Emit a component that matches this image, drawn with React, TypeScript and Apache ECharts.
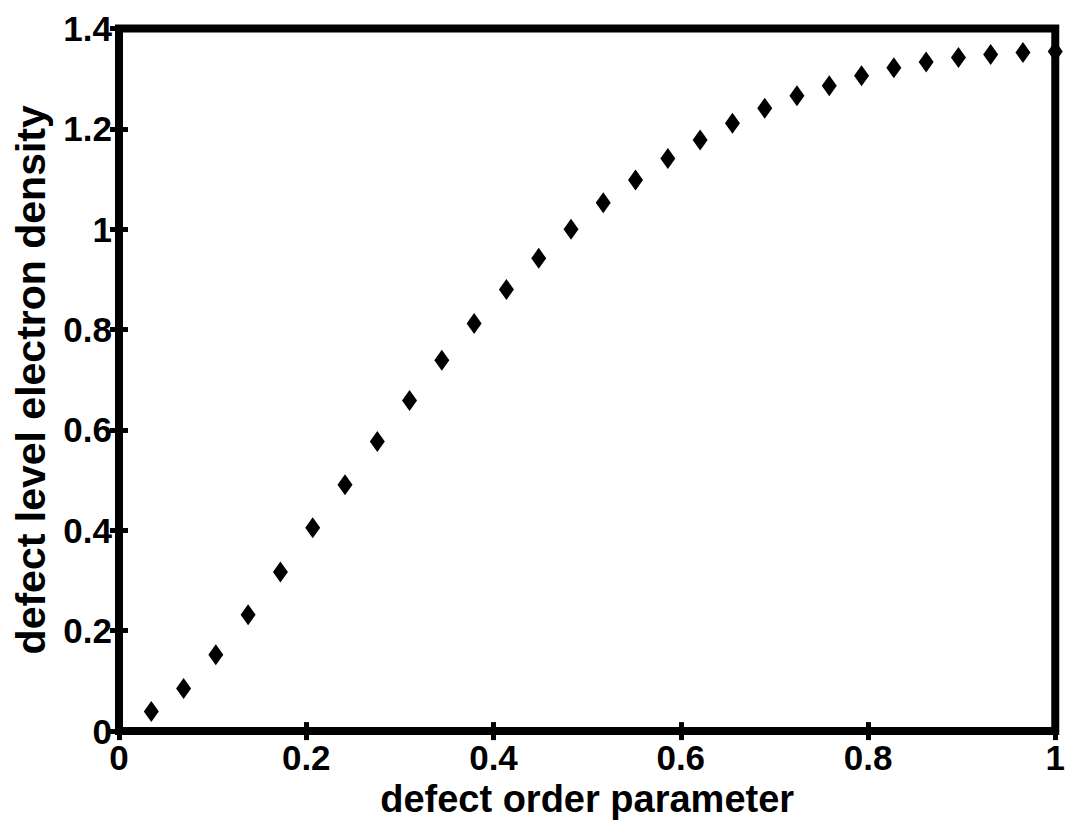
import React, { useEffect, useRef } from "react";
import * as echarts from "echarts";

const xValues = [
  0.0345, 0.069, 0.1034, 0.1379, 0.1724, 0.2069, 0.2414, 0.2759, 0.3103, 0.3448,
  0.3793, 0.4138, 0.4483, 0.4828, 0.5172, 0.5517, 0.5862, 0.6207, 0.6552, 0.6897,
  0.7241, 0.7586, 0.7931, 0.8276, 0.8621, 0.8966, 0.931, 0.9655, 1.0,
];
const yValues = [
  0.039, 0.085, 0.152, 0.232, 0.317, 0.405, 0.491, 0.577, 0.659, 0.739,
  0.812, 0.88, 0.942, 1.0, 1.053, 1.098, 1.141, 1.178, 1.211, 1.241,
  1.266, 1.286, 1.306, 1.322, 1.333, 1.342, 1.348, 1.352, 1.354,
];
const xTitle = "defect order parameter";
const yTitle = "defect level electron density";

const FONT = "'Liberation Sans', Arial, sans-serif";

export default function App() {
  const ref = useRef<HTMLDivElement>(null);
  useEffect(() => {
    if (!ref.current) return;
    const chart = echarts.init(ref.current, null, { renderer: "svg" });
    const tickStyle = { show: true, inside: true, length: 9, lineStyle: { color: "#000", width: 5 } };
    const labelStyle = { color: "#000", fontSize: 35, fontWeight: "bold" as const, fontFamily: FONT };
    chart.setOption({
      animation: false,
      backgroundColor: "#fff",
      grid: {
        left: 119,
        right: 8,
        top: 28.5,
        bottom: 87.5,
        show: true,
        borderColor: "#000",
        borderWidth: 8,
        backgroundColor: "transparent",
      },
      xAxis: [
        {
          type: "value",
          min: 0,
          max: 1,
          interval: 0.2,
          position: "bottom",
          name: xTitle,
          nameLocation: "middle",
          nameGap: 40,
          nameTextStyle: { color: "#000", fontSize: 38, fontWeight: "bold", fontFamily: FONT },
          axisLine: { show: false },
          axisTick: tickStyle,
          axisLabel: { ...labelStyle, margin: 9 },
          splitLine: { show: false },
        },
        {
          type: "value",
          min: 0,
          max: 1,
          interval: 0.2,
          position: "top",
          axisLine: { show: false },
          axisTick: tickStyle,
          axisLabel: { show: false },
          splitLine: { show: false },
        },
      ],
      yAxis: [
        {
          type: "value",
          min: 0,
          max: 1.4,
          interval: 0.2,
          position: "left",
          name: yTitle,
          nameLocation: "middle",
          nameGap: 68,
          nameRotate: 90,
          nameTextStyle: { color: "#000", fontSize: 41, fontWeight: "bold", fontFamily: FONT },
          axisLine: { show: false },
          axisTick: tickStyle,
          axisLabel: { ...labelStyle, margin: 7 },
          splitLine: { show: false },
        },
        {
          type: "value",
          min: 0,
          max: 1.4,
          interval: 0.2,
          position: "right",
          axisLine: { show: false },
          axisTick: tickStyle,
          axisLabel: { show: false },
          splitLine: { show: false },
        },
      ],
      series: [
        {
          type: "scatter",
          data: xValues.map((x, i) => [x, yValues[i]]),
          symbol: "diamond",
          symbolSize: [15, 21],
          itemStyle: { color: "#000", opacity: 1 },
          clip: false,
          z: 5,
        },
      ],
    });
    return () => chart.dispose();
  }, []);
  return (
    <div
      ref={ref}
      style={{ position: "absolute", left: 0, top: 0, width: 1068, height: 823 }}
    />
  );
}
